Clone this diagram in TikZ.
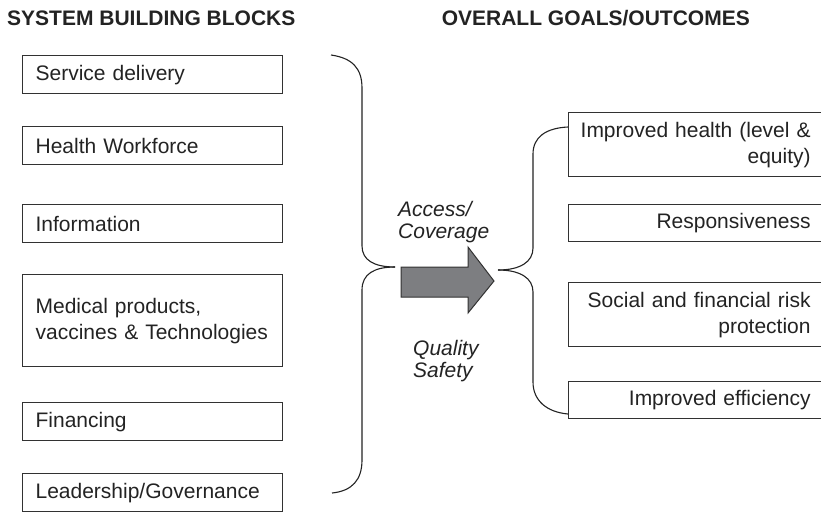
\documentclass[tikz,border=0pt]{standalone}
\usepackage{fontspec}
\setmainfont{Liberation Sans}
\definecolor{inkc}{RGB}{35,35,35}
\definecolor{edgec}{RGB}{50,50,50}
\definecolor{arrowfill}{RGB}{125,126,129}
\begin{document}
\begin{tikzpicture}[x=1pt,y=-1pt,
  txt/.style={font=\fontsize{21}{26}\selectfont, text=inkc},
  header/.style={font=\fontsize{21}{26}\selectfont\bfseries, text=inkc, inner sep=0pt},
  blockbox/.style={txt, draw=edgec, line width=1.2pt, rectangle, anchor=north west,
    minimum width=260pt, text width=234pt, inner xsep=13pt, inner ysep=0pt, align=left},
  goalbox/.style={txt, draw=edgec, line width=1.2pt, rectangle, anchor=north west,
    minimum width=254pt, text width=230pt, inner xsep=12pt, inner ysep=0pt, align=right},
  flowlabel/.style={font=\fontsize{21}{22}\selectfont\itshape, text=inkc, inner sep=0pt, align=left},
  brace/.style={draw=inkc, line width=1.1pt},
]
\useasboundingbox (0,0) rectangle (821,512);

% column headings
\node[header, anchor=base west] (hdrL) at (7,25) {SYSTEM BUILDING BLOCKS};
\node[header, anchor=base east] (hdrR) at (750,25) {OVERALL GOALS/OUTCOMES};

% building blocks
\node[blockbox, minimum height=38pt] (sd)   at (22,55)  {Service delivery};
\node[blockbox, minimum height=38pt] (hw)   at (22,126) {Health Workforce};
\node[blockbox, minimum height=38pt] (inf)  at (22,204) {Information};
\node[blockbox, minimum height=92pt] (med)  at (22,274) {Medical products,\\vaccines \& Technologies};
\node[blockbox, minimum height=38pt] (fin)  at (22,402) {Financing};
\node[blockbox, minimum height=38pt] (lead) at (22,473) {Leadership/Governance};

% goals and outcomes
\node[goalbox, minimum height=64pt] (hl)   at (568,112) {Improved health (level \&\\equity)};
\node[goalbox, minimum height=37pt] (resp) at (568,204) {Responsiveness};
\node[goalbox, minimum height=64pt] (soc)  at (568,282) {Social and financial risk\\protection};
\node[goalbox, minimum height=37pt] (eff)  at (568,381) {Improved efficiency};

% left brace gathering the building blocks
\coordinate (lbTop) at (331,55);
\coordinate (lbTip) at (395,267);
\coordinate (lbBot) at (332,493);
\draw[brace] (lbTop) .. controls (352,58) and (362,68) .. (362,88)
  -- (362,246) .. controls (362,260) and (374,267) .. (lbTip);
\draw[brace] (lbTip) .. controls (374,267) and (362,274) .. (362,290)
  -- (362,460) .. controls (362,480) and (352,491) .. (lbBot);

% right brace spreading to the outcomes
\coordinate (rbTop) at (568,127);
\coordinate (rbTip) at (498,270);
\coordinate (rbBot) at (568,414);
\draw[brace] (rbTop) .. controls (546,128) and (533,137) .. (533,154)
  -- (533,248) .. controls (533,262) and (520,270) .. (rbTip);
\draw[brace] (rbTip) .. controls (520,270) and (533,278) .. (533,292)
  -- (533,382) .. controls (533,400) and (546,412) .. (rbBot);

% central block arrow
\filldraw[fill=arrowfill, draw=edgec, line width=1pt]
  (401,267) -- (468,267) -- (468,247) -- (494,281) -- (468,313) -- (468,297) -- (401,297) -- cycle;

% flow labels
\node[flowlabel, anchor=west] (acc) at (398,222) {Access/\\Coverage};
\node[flowlabel, anchor=west] (qual) at (413,361) {Quality\\Safety};
\end{tikzpicture}
\end{document}
